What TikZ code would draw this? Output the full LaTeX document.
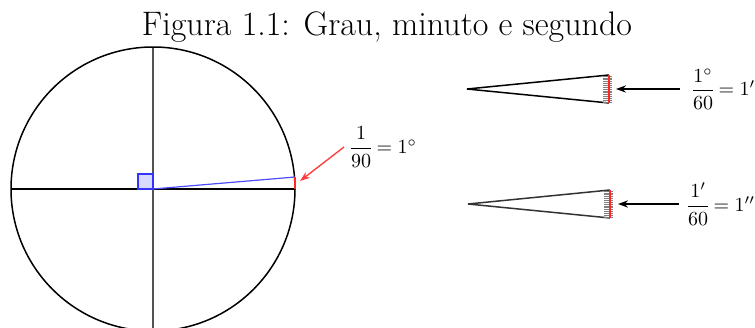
\documentclass[tikz,border=0pt]{standalone}
\usepackage{amsmath}
\usetikzlibrary{arrows.meta}
\begin{document}
\begin{tikzpicture}[x=0.5pt,y=-0.5pt,
  mainline/.style={line width=0.75pt},
  redmark/.style={red!85!white, line width=1.4pt},
  hatch/.style={gray, line width=0.3pt},
  redarrow/.style={red!75!white, line width=0.7pt, -{Stealth[length=5pt,width=3.6pt]}},
  blackarrow/.style={black, line width=0.75pt, -{Stealth[length=5pt,width=3.6pt]}},
  fraclabel/.style={anchor=west, font=\normalsize}]
\useasboundingbox (0,0) rectangle (755,327);
\clip (0,0) rectangle (755,327);

\node[anchor=base, font=\fontsize{17}{20}\selectfont] (title) at (387,35) {Figura 1.1: Grau, minuto e segundo};

% circle
\coordinate (O) at (153,189);
\coordinate (E) at (295,189);
\coordinate (P) at (295,177);
\draw[mainline] (11,189) -- (E);
\draw[gray!65!black, line width=0.9pt] (153,47) -- (153,335);
\draw[mainline] (O) circle[radius=142];
\filldraw[draw=blue!80, fill=blue!15, line width=0.6pt] (138,174) rectangle (O);
\draw[blue!70, line width=0.6pt] (O) -- (P);
\draw[redmark] (E) -- (P);
\coordinate (redtip) at (300,181);
\node[fraclabel] (lab1) at (344,147) {\nulldelimiterspace=0pt$\dfrac{1}{90}=1^\circ$};
\draw[redarrow] (lab1.west) -- (redtip);

% top triangle
\coordinate (A1) at (467,89);
\coordinate (B1) at (609,75);
\coordinate (C1) at (609,103);
\draw[mainline] (B1) -- (A1) -- (C1);
\foreach \k in {0,...,14} \draw[hatch] (603,{76+\k*1.85}) -- (612,{76+\k*1.85});
\draw[redmark] (B1) -- (C1);
\coordinate (tip2) at (616,89);
\node[fraclabel] (lab2) at (686,89) {\nulldelimiterspace=0pt$\dfrac{1^\circ}{60}=1'$};
\draw[blackarrow, shorten <=3pt] (lab2.west) -- (tip2);

% bottom triangle
\coordinate (A2) at (468,204);
\coordinate (B2) at (610,190);
\coordinate (C2) at (610,218);
\draw[mainline, gray!40!black] (B2) -- (A2) -- (C2);
\foreach \k in {0,...,14} \draw[hatch] (604,{191+\k*1.85}) -- (613,{191+\k*1.85});
\draw[redmark] (B2) -- (C2);
\coordinate (tip3) at (618,204);
\node[fraclabel] (lab3) at (681,204) {\nulldelimiterspace=0pt$\dfrac{1'}{60}=1''$};
\draw[blackarrow, shorten <=1pt] (lab3.west) -- (tip3);
\end{tikzpicture}
\end{document}
